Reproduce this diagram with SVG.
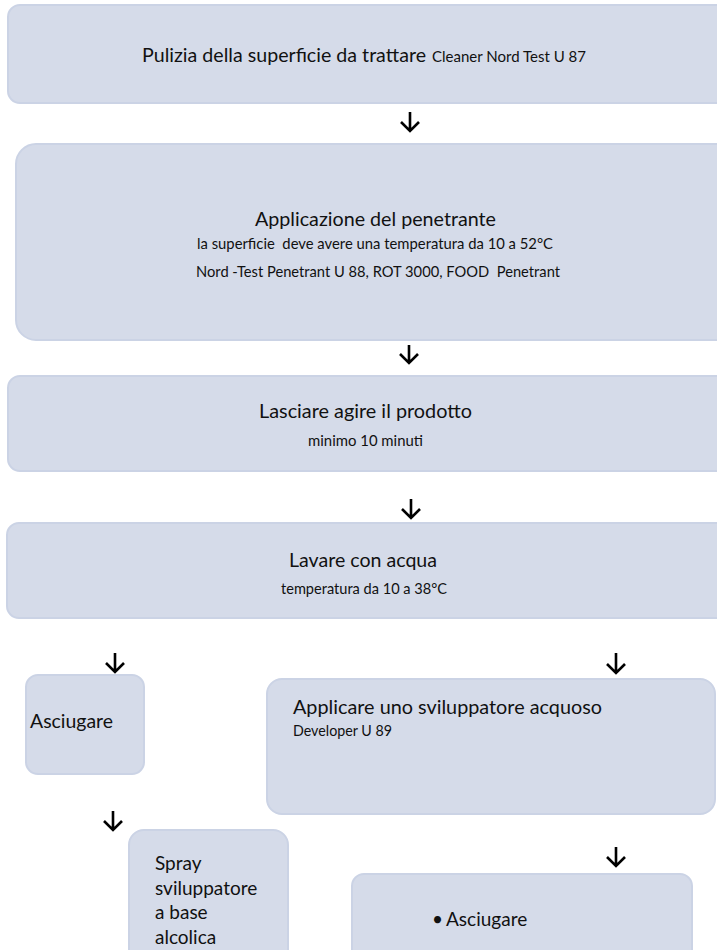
<svg xmlns="http://www.w3.org/2000/svg" width="717" height="950" viewBox="0 0 717 950">
<defs>
<style>
.box{fill:#d5dbe9;stroke:#cbd3e5;stroke-width:2}
.t{font-family:Lato,"Open Sans","Liberation Sans",sans-serif;fill:#111;font-size:19px}
.s{font-size:15px}
.arr{fill:none;stroke:#000;stroke-width:2.6;stroke-linejoin:miter}
</style>
</defs>
<rect x="0" y="0" width="717" height="950" fill="#fff"/>
<g id="n1">
<rect class="box" x="8" y="5" width="722" height="98" rx="12"/>
<text class="t" x="142" y="62" textLength="284" lengthAdjust="spacingAndGlyphs">Pulizia della superficie da trattare</text>
<text class="t s" x="432" y="62" textLength="154" lengthAdjust="spacingAndGlyphs">Cleaner Nord Test U 87</text>
</g>
<g id="n2">
<rect class="box" x="16" y="144" width="722" height="196" rx="20"/>
<text class="t" x="255" y="226" textLength="241" lengthAdjust="spacingAndGlyphs">Applicazione del penetrante</text>
<text class="t s" x="197" y="249" xml:space="preserve" textLength="356" lengthAdjust="spacingAndGlyphs">la superficie  deve avere una temperatura da 10 a 52°C</text>
<text class="t s" x="196" y="277" xml:space="preserve" textLength="364" lengthAdjust="spacingAndGlyphs">Nord -Test Penetrant U 88, ROT 3000, FOOD  Penetrant</text>
</g>
<g id="n3">
<rect class="box" x="8" y="376" width="722" height="95" rx="12"/>
<text class="t" x="259" y="418" textLength="213" lengthAdjust="spacingAndGlyphs">Lasciare agire il prodotto</text>
<text class="t s" x="308" y="446" textLength="115" lengthAdjust="spacingAndGlyphs">minimo 10 minuti</text>
</g>
<g id="n4">
<rect class="box" x="7" y="523" width="723" height="95" rx="12"/>
<text class="t" x="289" y="567" textLength="148" lengthAdjust="spacingAndGlyphs">Lavare con acqua</text>
<text class="t s" x="281" y="594" textLength="166" lengthAdjust="spacingAndGlyphs">temperatura da 10 a 38°C</text>
</g>
<g id="n5">
<rect class="box" x="26" y="675" width="118" height="99" rx="12"/>
<text class="t" x="30" y="728" textLength="83" lengthAdjust="spacingAndGlyphs">Asciugare</text>
</g>
<g id="n6">
<rect class="box" x="267" y="679" width="448" height="135" rx="15"/>
<text class="t" x="293" y="714" textLength="309" lengthAdjust="spacingAndGlyphs">Applicare uno sviluppatore acquoso</text>
<text class="t s" x="293" y="736" textLength="99" lengthAdjust="spacingAndGlyphs">Developer U 89</text>
</g>
<g id="n7">
<rect class="box" x="129" y="830" width="159" height="140" rx="15"/>
<text class="t" x="155" y="870">Spray</text>
<text class="t" x="155" y="894.5">sviluppatore</text>
<text class="t" x="155" y="919">a base</text>
<text class="t" x="155" y="943.5">alcolica</text>
</g>
<g id="n8">
<rect class="box" x="352" y="874" width="340" height="100" rx="12"/>
<text class="t"><tspan x="432" y="926">•</tspan><tspan x="446" y="926">Asciugare</tspan></text>
</g>
<g id="connectors">
<path class="arr" d="M410 112V131M401 122L410 131L419 122"/>
<path class="arr" d="M409 345V363M400 354L409 363L418 354"/>
<path class="arr" d="M411 499V518M402 509L411 518L420 509"/>
<path class="arr" d="M115 653V672M106 663L115 672L124 663"/>
<path class="arr" d="M616 653V673M607 664L616 673L625 664"/>
<path class="arr" d="M113 811V830M104 821L113 830L122 821"/>
<path class="arr" d="M616 847V866M607 857L616 866L625 857"/>
</g>
</svg>
